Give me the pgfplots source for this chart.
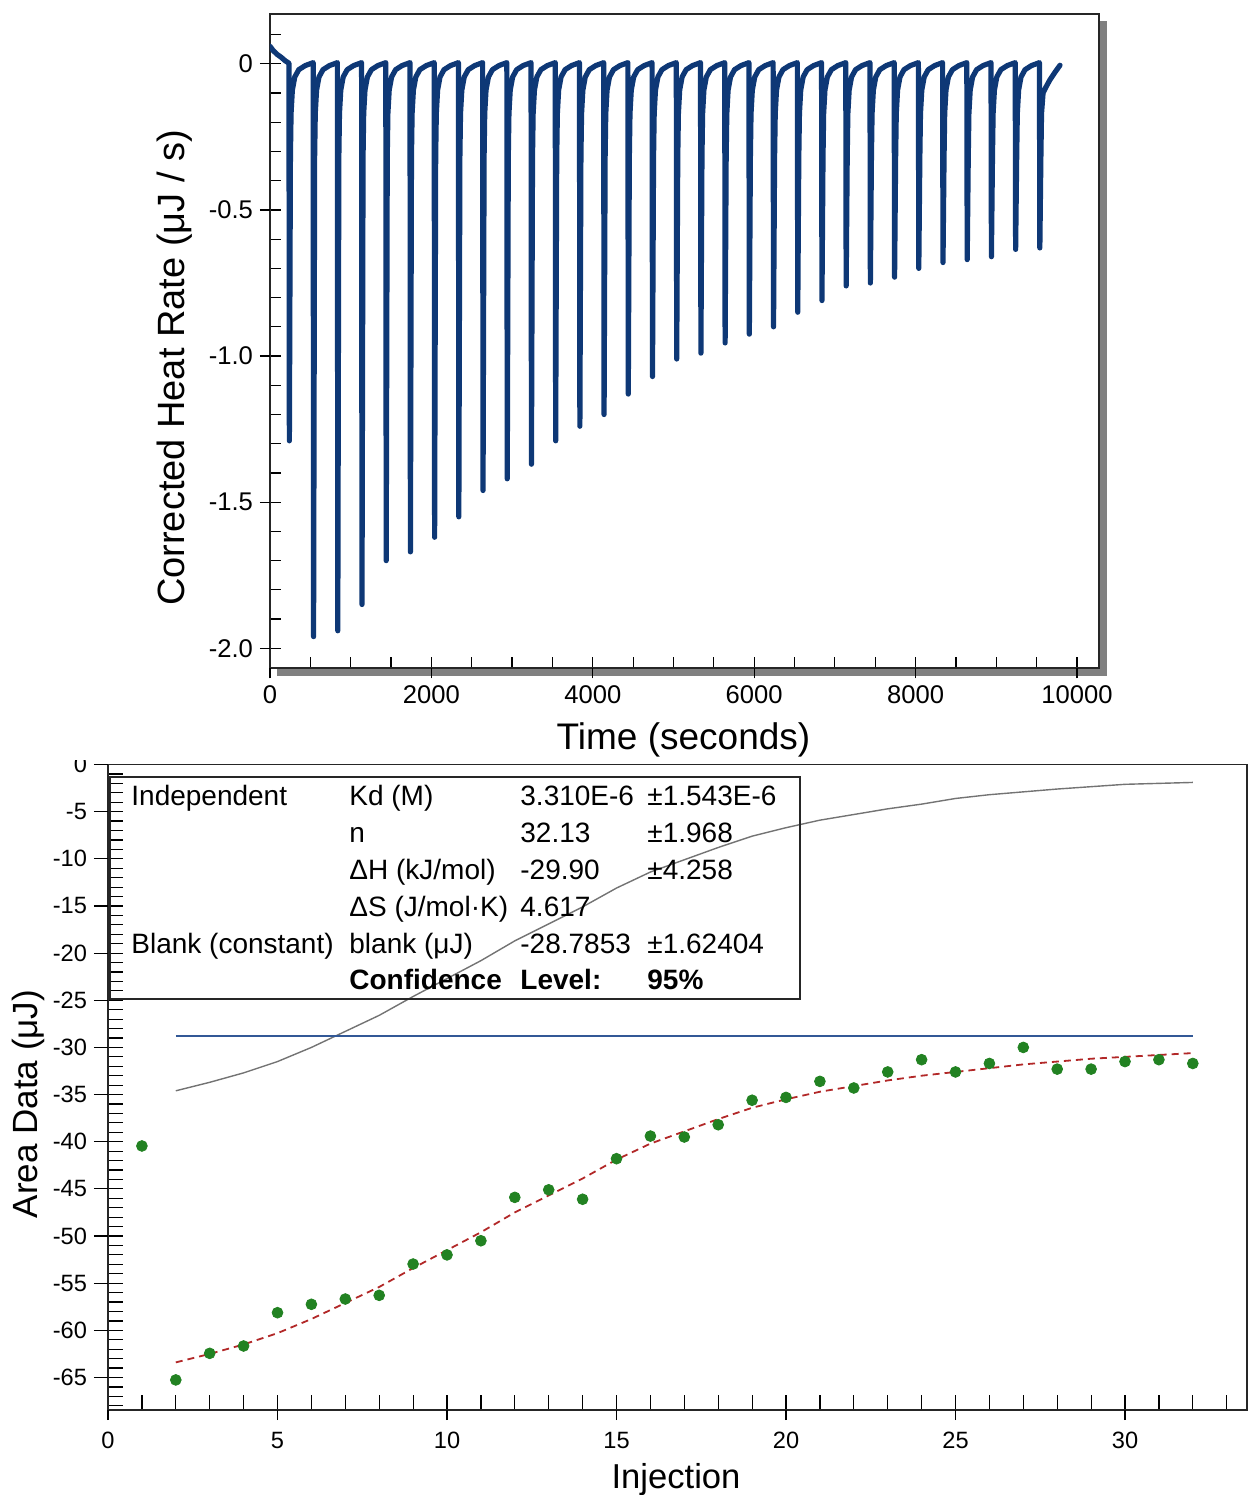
\documentclass[border=0pt]{standalone}
\usepackage{fontspec}
\setmainfont{Liberation Sans}
\usepackage{pgfplots}
\pgfplotsset{compat=1.18}

\definecolor{thermo}{RGB}{14,56,118}
\definecolor{ptgreen}{RGB}{34,130,34}
\definecolor{fitred}{RGB}{178,40,40}
\definecolor{blankblue}{RGB}{50,88,150}
\definecolor{simgray}{RGB}{115,115,115}

\begin{document}
\begin{tikzpicture}
\useasboundingbox (0,0) rectangle (624.5pt,-747.5pt);
% drop shadow behind the thermogram frame
\fill[black!50] (138.5pt,-10.5pt) rectangle (553.5pt,-337.75pt);

\begin{axis}[
  at={(135pt,-334.15pt)}, anchor=south west,
  scale only axis, width=414.65pt, height=327.15pt,
  xmin=0, xmax=10277, ymin=-2.0684, ymax=0.1704,
  axis background/.style={fill=white},
  axis line style={line width=0.9pt, black!85},
  tick pos=left, tick align=inside,
  tick style={line width=0.6pt, black},
  major tick length=5.7pt,
  xtick={0,500,...,10000}, xticklabels={},
  ytick={-2.0,-1.9,...,0.15}, yticklabels={},
  extra x ticks={0,2000,4000,6000,8000,10000},
  extra x tick labels={0,2000,4000,6000,8000,10000},
  extra y ticks={-2,-1.5,-1,-0.5,0},
  extra y tick labels={-2.0,-1.5,-1.0,-0.5,0},
  extra x tick style={tick align=outside, major tick length=5pt},
  extra y tick style={tick align=outside, major tick length=5pt},
  tick label style={font=\fontsize{12.8}{14}\selectfont},
  scaled x ticks=false,
]
\addplot[thermo, line width=2.6pt, line join=round, line cap=round, no markers] coordinates {
(0,0.060) (40,0.045) (90,0.032) (140,0.022) (190,0.010) (225,0.004)
(235,0.002) (240,-1.29) (253,-0.32) (261,-0.17) (277,-0.09) (307,-0.045) (357,-0.02) (437,-0.006)
(535,0.004) (540,-1.96) (553,-0.32) (561,-0.17) (577,-0.09) (607,-0.045) (657,-0.02) (737,-0.006)
(835,0.004) (840,-1.94) (853,-0.32) (861,-0.17) (877,-0.09) (907,-0.045) (957,-0.02) (1037,-0.006)
(1135,0.004) (1140,-1.85) (1153,-0.32) (1161,-0.17) (1177,-0.09) (1207,-0.045) (1257,-0.02) (1337,-0.006)
(1435,0.004) (1440,-1.70) (1453,-0.32) (1461,-0.17) (1477,-0.09) (1507,-0.045) (1557,-0.02) (1637,-0.006)
(1735,0.004) (1740,-1.67) (1753,-0.32) (1761,-0.17) (1777,-0.09) (1807,-0.045) (1857,-0.02) (1937,-0.006)
(2035,0.004) (2040,-1.62) (2053,-0.32) (2061,-0.17) (2077,-0.09) (2107,-0.045) (2157,-0.02) (2237,-0.006)
(2335,0.004) (2340,-1.55) (2353,-0.32) (2361,-0.17) (2377,-0.09) (2407,-0.045) (2457,-0.02) (2537,-0.006)
(2635,0.004) (2640,-1.46) (2653,-0.32) (2661,-0.17) (2677,-0.09) (2707,-0.045) (2757,-0.02) (2837,-0.006)
(2935,0.004) (2940,-1.42) (2953,-0.32) (2961,-0.17) (2977,-0.09) (3007,-0.045) (3057,-0.02) (3137,-0.006)
(3235,0.004) (3240,-1.37) (3253,-0.32) (3261,-0.17) (3277,-0.09) (3307,-0.045) (3357,-0.02) (3437,-0.006)
(3535,0.004) (3540,-1.29) (3553,-0.32) (3561,-0.17) (3577,-0.09) (3607,-0.045) (3657,-0.02) (3737,-0.006)
(3835,0.004) (3840,-1.24) (3853,-0.32) (3861,-0.17) (3877,-0.09) (3907,-0.045) (3957,-0.02) (4037,-0.006)
(4135,0.004) (4140,-1.20) (4153,-0.32) (4161,-0.17) (4177,-0.09) (4207,-0.045) (4257,-0.02) (4337,-0.006)
(4435,0.004) (4440,-1.13) (4453,-0.32) (4461,-0.17) (4477,-0.09) (4507,-0.045) (4557,-0.02) (4637,-0.006)
(4735,0.004) (4740,-1.07) (4753,-0.32) (4761,-0.17) (4777,-0.09) (4807,-0.045) (4857,-0.02) (4937,-0.006)
(5035,0.004) (5040,-1.01) (5053,-0.32) (5061,-0.17) (5077,-0.09) (5107,-0.045) (5157,-0.02) (5237,-0.006)
(5335,0.004) (5340,-0.99) (5353,-0.32) (5361,-0.17) (5377,-0.09) (5407,-0.045) (5457,-0.02) (5537,-0.006)
(5635,0.004) (5640,-0.955) (5653,-0.32) (5661,-0.17) (5677,-0.09) (5707,-0.045) (5757,-0.02) (5837,-0.006)
(5935,0.004) (5940,-0.925) (5953,-0.32) (5961,-0.17) (5977,-0.09) (6007,-0.045) (6057,-0.02) (6137,-0.006)
(6235,0.004) (6240,-0.90) (6253,-0.32) (6261,-0.17) (6277,-0.09) (6307,-0.045) (6357,-0.02) (6437,-0.006)
(6535,0.004) (6540,-0.85) (6553,-0.32) (6561,-0.17) (6577,-0.09) (6607,-0.045) (6657,-0.02) (6737,-0.006)
(6835,0.004) (6840,-0.81) (6853,-0.32) (6861,-0.17) (6877,-0.09) (6907,-0.045) (6957,-0.02) (7037,-0.006)
(7135,0.004) (7140,-0.76) (7153,-0.32) (7161,-0.17) (7177,-0.09) (7207,-0.045) (7257,-0.02) (7337,-0.006)
(7435,0.004) (7440,-0.75) (7453,-0.32) (7461,-0.17) (7477,-0.09) (7507,-0.045) (7557,-0.02) (7637,-0.006)
(7735,0.004) (7740,-0.73) (7753,-0.32) (7761,-0.17) (7777,-0.09) (7807,-0.045) (7857,-0.02) (7937,-0.006)
(8035,0.004) (8040,-0.70) (8053,-0.32) (8061,-0.17) (8077,-0.09) (8107,-0.045) (8157,-0.02) (8237,-0.006)
(8335,0.004) (8340,-0.68) (8353,-0.32) (8361,-0.17) (8377,-0.09) (8407,-0.045) (8457,-0.02) (8537,-0.006)
(8635,0.004) (8640,-0.67) (8653,-0.32) (8661,-0.17) (8677,-0.09) (8707,-0.045) (8757,-0.02) (8837,-0.006)
(8935,0.004) (8940,-0.66) (8953,-0.32) (8961,-0.17) (8977,-0.09) (9007,-0.045) (9057,-0.02) (9137,-0.006)
(9235,0.004) (9240,-0.635) (9253,-0.32) (9261,-0.17) (9277,-0.09) (9307,-0.045) (9357,-0.02) (9437,-0.006)
(9535,0.004) (9540,-0.63) (9553,-0.32) (9561,-0.17) (9580,-0.10) (9615,-0.08) (9665,-0.055) (9725,-0.03) (9790,-0.005)
};
\end{axis}

\node[anchor=base, font=\fontsize{18.5}{22}\selectfont] at (341.75pt,-374.75pt) {Time (seconds)};
\node[anchor=base, rotate=90, font=\fontsize{19}{22}\selectfont] at (92pt,-184pt) {Corrected Heat Rate (μJ / s)};

\begin{axis}[
  at={(54pt,-705pt)}, anchor=south west,
  scale only axis, width=569.35pt, height=322.75pt,
  xmin=0, xmax=33.59, ymin=-68.45, ymax=0,
  axis line style={line width=0.9pt, black!85},
  tick pos=left, tick align=inside,
  tick style={line width=0.6pt, black},
  major tick length=7.3pt,
  xtick={0,1,...,33}, xticklabels={},
  ytick={-68,-67,...,0}, yticklabels={},
  extra x ticks={0,5,...,30},
  extra x tick labels={0,5,10,15,20,25,30},
  extra y ticks={-65,-60,...,0},
  extra y tick labels={-65,-60,-55,-50,-45,-40,-35,-30,-25,-20,-15,-10,-5,0},
  extra x tick style={tick align=outside, major tick length=5pt, xticklabel style={yshift=-2.5pt}},
  extra y tick style={tick align=outside, major tick length=7pt},
  tick label style={font=\fontsize{11.8}{13}\selectfont},
]
% simulated heat without the blank
\addplot[simgray, line width=0.7pt, no markers] coordinates {
(2,-34.6) (3,-33.7) (4,-32.7) (5,-31.5) (6,-30.0) (7,-28.3) (8,-26.6) (9,-24.6)
(10,-22.7) (11,-20.8) (12,-18.7) (13,-16.9) (14,-15.1) (15,-13.1) (16,-11.4)
(17,-10.1) (18,-8.8) (19,-7.6) (20,-6.7) (21,-5.9) (22,-5.3) (23,-4.7) (24,-4.2)
(25,-3.6) (26,-3.2) (27,-2.9) (28,-2.6) (29,-2.35) (30,-2.1) (31,-2.0) (32,-1.9)
};
% blank constant
\addplot[blankblue, line width=0.7pt, no markers] coordinates {(2,-28.785) (32,-28.785)};
% fit
\addplot[fitred, line width=0.9pt, dash pattern=on 3.5pt off 2.5pt, no markers] coordinates {
(2,-63.4) (3,-62.5) (4,-61.5) (5,-60.3) (6,-58.8) (7,-57.1) (8,-55.4) (9,-53.4)
(10,-51.5) (11,-49.6) (12,-47.5) (13,-45.7) (14,-43.9) (15,-41.9) (16,-40.2)
(17,-38.9) (18,-37.6) (19,-36.4) (20,-35.5) (21,-34.7) (22,-34.1) (23,-33.5)
(24,-33.0) (25,-32.6) (26,-32.2) (27,-31.8) (28,-31.5) (29,-31.2) (30,-31.0)
(31,-30.8) (32,-30.6)
};
% integrated areas
\addplot[only marks, mark=*, mark size=2.7pt, mark options={draw=ptgreen, fill=ptgreen}] coordinates {
(1,-40.45) (2,-65.26) (3,-62.44) (4,-61.66) (5,-58.13) (6,-57.24) (7,-56.68) (8,-56.29)
(9,-52.97) (10,-52.0) (11,-50.5) (12,-45.9) (13,-45.1) (14,-46.1) (15,-41.8) (16,-39.4)
(17,-39.5) (18,-38.2) (19,-35.6) (20,-35.3) (21,-33.6) (22,-34.3) (23,-32.6) (24,-31.3)
(25,-32.6) (26,-31.7) (27,-30.0) (28,-32.3) (29,-32.3) (30,-31.5) (31,-31.3) (32,-31.7)
};
\end{axis}

% top of the "0" label is hidden in the original
\fill[white] (28pt,-369pt) rectangle (52pt,-380pt);

\node[anchor=base, font=\fontsize{17.3}{20}\selectfont] at (338pt,-744pt) {Injection};
\node[anchor=base, rotate=90, font=\fontsize{17.5}{20}\selectfont] at (19pt,-552pt) {Area Data (μJ)};

% fit results box
\draw[line width=0.9pt, black!85] (55pt,-388.35pt) rectangle (400pt,-499.65pt);
\begin{scope}[every node/.style={anchor=base west, inner sep=0pt, font=\fontsize{14}{16}\selectfont}]
\node at (65.5pt,-402.5pt) {Independent};
\node at (174.5pt,-402.5pt) {Kd (M)};
\node at (260pt,-402.5pt) {3.310E-6};
\node at (323.5pt,-402.5pt) {±1.543E-6};
\node at (174.5pt,-421pt) {n};
\node at (260pt,-421pt) {32.13};
\node at (323.5pt,-421pt) {±1.968};
\node at (174.5pt,-439.5pt) {ΔH (kJ/mol)};
\node at (260pt,-439.5pt) {-29.90};
\node at (323.5pt,-439.5pt) {±4.258};
\node at (174.5pt,-458pt) {ΔS (J/mol·K)};
\node at (260pt,-458pt) {4.617};
\node at (65.5pt,-476.5pt) {Blank (constant)};
\node at (174.5pt,-476.5pt) {blank (μJ)};
\node at (260pt,-476.5pt) {-28.7853};
\node at (323.5pt,-476.5pt) {±1.62404};
\node[font=\fontsize{14}{16}\selectfont\bfseries] at (174.5pt,-494.5pt) {Confidence};
\node[font=\fontsize{14}{16}\selectfont\bfseries] at (260pt,-494.5pt) {Level:};
\node[font=\fontsize{14}{16}\selectfont\bfseries] at (323.5pt,-494.5pt) {95\%};
\end{scope}
\end{tikzpicture}
\end{document}
